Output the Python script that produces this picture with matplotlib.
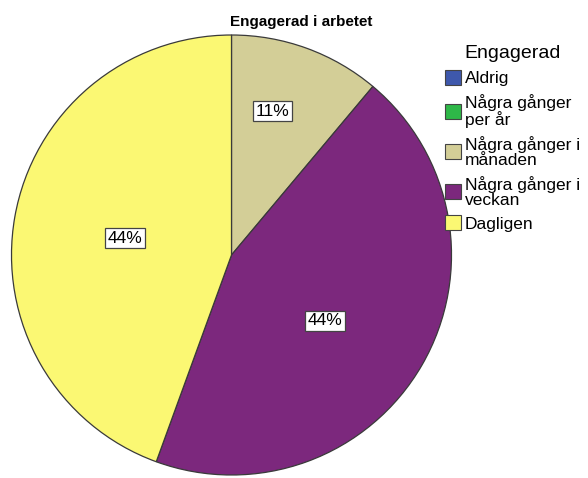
import matplotlib
matplotlib.use("Agg")
import matplotlib.pyplot as plt
import numpy as np
from matplotlib.patches import Patch

plt.rcParams["font.family"] = ["Liberation Sans", "DejaVu Sans"]

# Data: number of answers per category (Engagerad i arbetet)
categories = [
    "Aldrig",
    "Några gånger\nper år",
    "Några gånger i\nmånaden",
    "Några gånger i\nveckan",
    "Dagligen",
]
counts = [0, 0, 1, 4, 4]
colors = ["#3E58AC", "#2EB848", "#D3CE97", "#7C287D", "#FBF873"]

# radial position of each percent label (fraction of radius), per drawn slice
label_dist = {2: 0.68, 3: 0.52, 4: 0.49}
label_shift = {2: 4.0, 3: -5.0, 4: 1.0}  # degrees, small angular nudge

fig = plt.figure(figsize=(5.88, 4.78), dpi=100)
W, H = 588, 478
cx, cy, r = 231.5, 255.0, 220.0
ax = fig.add_axes([(cx - r) / W, (H - cy - r) / H, 2 * r / W, 2 * r / H])

shown = [i for i, c in enumerate(counts) if c > 0]
vals = [counts[i] for i in shown]
total = float(sum(vals))

wedges, _ = ax.pie(
    vals,
    colors=[colors[i] for i in shown],
    startangle=90,
    counterclock=False,
    radius=1.0,
    wedgeprops=dict(edgecolor="#3a3a3a", linewidth=0.9),
)

for w, i, v in zip(wedges, shown, vals):
    mid = np.deg2rad((w.theta1 + w.theta2) / 2 + label_shift.get(i, 0.0))
    d = label_dist.get(i, 0.55)
    ax.text(
        d * np.cos(mid),
        d * np.sin(mid),
        f"{100 * v / total:.0f}%",
        ha="center",
        va="center",
        fontsize=12.5,
        color="black",
        bbox=dict(boxstyle="square,pad=0.15", facecolor="white", edgecolor="#444444", lw=0.9),
    )

ax.set_xlim(-1, 1)
ax.set_ylim(-1, 1)
ax.set_aspect("equal")
ax.axis("off")

fig.text(301 / W, 1 - 22 / H, "Engagerad i arbetet", ha="center", va="center",
         fontsize=11, fontweight="bold")

handles = [Patch(facecolor=c, edgecolor="#444444", lw=0.8) for c in colors]
leg = fig.legend(
    handles,
    categories,
    loc="upper left",
    bbox_to_anchor=(445 / W, 1 - 45 / H),
    frameon=False,
    title="Engagerad",
    title_fontsize=14,
    fontsize=12.5,
    handlelength=0.95,
    handleheight=0.95,
    handletextpad=0.2,
    labelspacing=0.45,
    borderaxespad=0,
    borderpad=0,
)
for t in leg.get_texts():
    t.set_linespacing(1.0)

fig.savefig("out.png", dpi=100)
